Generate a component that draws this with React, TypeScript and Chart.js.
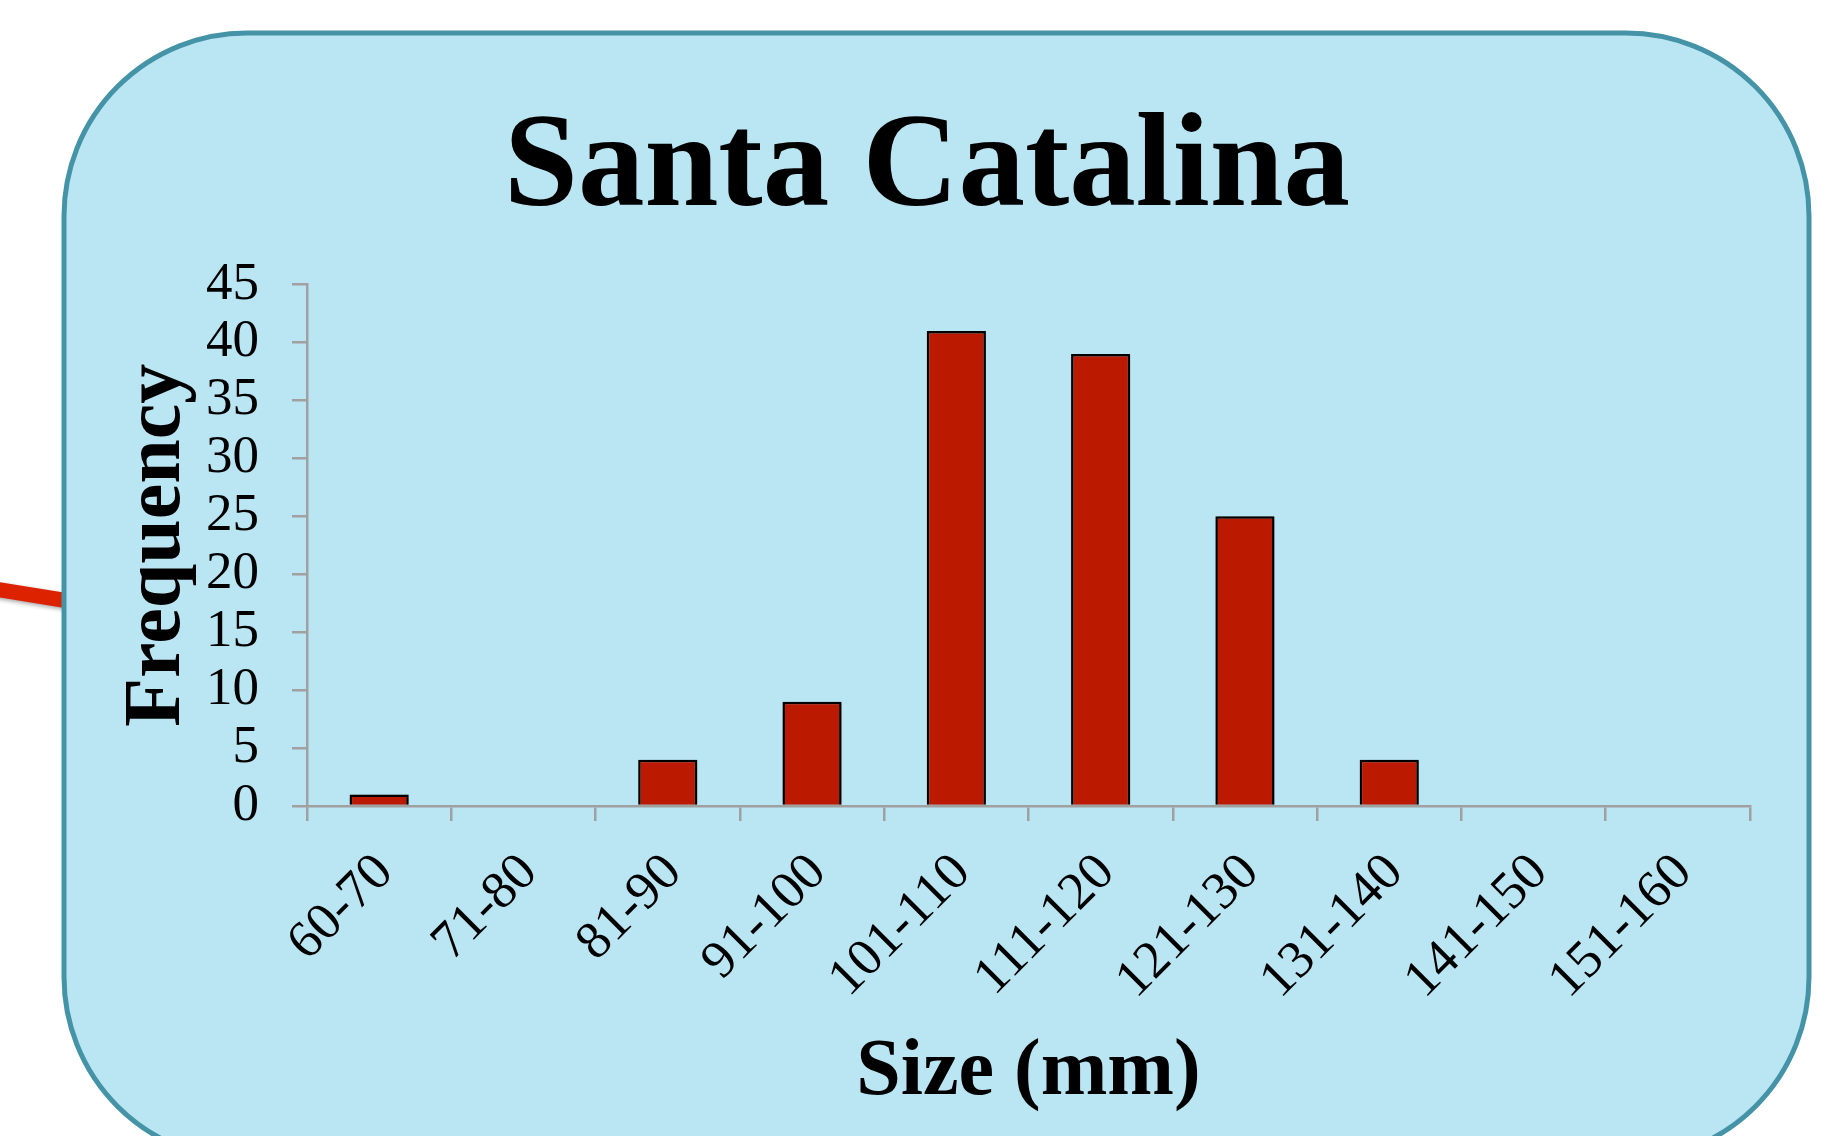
import React, { useEffect, useRef } from "react";
import { Chart, registerables } from "chart.js";

Chart.register(...registerables);

const categories = ["60-70", "71-80", "81-90", "91-100", "101-110", "111-120", "121-130", "131-140", "141-150", "151-160"];
const frequency = [1, 0, 4, 9, 41, 39, 25, 4, 0, 0];
const yMin = 0;
const yMax = 45;
const yStep = 5;

const chartTitle = "Santa Catalina";
const xTitle = "Size (mm)";
const yTitle = "Frequency";

const SERIF = "'Liberation Serif', 'Times New Roman', Times, serif";
const W = 1831;
const H = 1136;

const panelPlugin = {
  id: "panel",
  beforeDraw(chart: any) {
    const ctx = chart.ctx as CanvasRenderingContext2D;
    ctx.save();
    ctx.fillStyle = "#ffffff";
    ctx.fillRect(0, 0, W, H);
    // red pointer line on the left
    ctx.save();
    ctx.shadowColor = "rgba(0,0,0,0.35)";
    ctx.shadowBlur = 4;
    ctx.shadowOffsetX = 1;
    ctx.shadowOffsetY = 2;
    ctx.strokeStyle = "#DD2200";
    ctx.lineWidth = 15;
    ctx.lineCap = "butt";
    ctx.beginPath();
    ctx.moveTo(-6, 589);
    ctx.lineTo(72, 601.5);
    ctx.stroke();
    ctx.restore();
    // rounded panel
    ctx.beginPath();
    (ctx as any).roundRect(64, 33, 1809 - 64, 1160 - 33, 183);
    ctx.fillStyle = "#BAE5F2";
    ctx.fill();
    ctx.lineWidth = 5;
    ctx.strokeStyle = "#4593A6";
    ctx.stroke();
    ctx.restore();
  },
  beforeDatasetsDraw(chart: any) {
    const ctx = chart.ctx as CanvasRenderingContext2D;
    ctx.save();
    ctx.shadowColor = "rgba(0,0,0,0.3)";
    ctx.shadowBlur = 5;
    ctx.shadowOffsetX = 2;
    ctx.shadowOffsetY = 1;
  },
  afterDatasetsDraw(chart: any) {
    chart.ctx.restore();
  },
};

export default function App() {
  const ref = useRef<HTMLCanvasElement>(null);

  useEffect(() => {
    if (!ref.current) return;
    const chart = new Chart(ref.current, {
      type: "bar",
      data: {
        labels: categories,
        datasets: [
          {
            data: frequency,
            backgroundColor: "#BC1A00",
            borderColor: "#000000",
            borderWidth: 2.5,
            barPercentage: 0.41,
            categoryPercentage: 1.0,
          },
        ],
      },
      options: {
        responsive: false,
        animation: false,
        devicePixelRatio: 1,
        layout: { padding: { left: 104, right: 81, top: 0, bottom: 0 } },
        plugins: {
          legend: { display: false },
          tooltip: { enabled: false },
          title: {
            display: true,
            text: chartTitle,
            color: "#000000",
            font: { family: SERIF, size: 133, weight: "bold" },
            padding: { top: 91, bottom: 34 },
          },
        },
        scales: {
          x: {
            type: "category",
            offset: true,
            grid: {
              display: true,
              offset: true,
              drawOnChartArea: false,
              drawTicks: true,
              tickLength: 15,
              color: "#A0A0A0",
              lineWidth: 2.5,
            },
            border: { display: true, color: "#A0A0A0", width: 2.5 },
            ticks: {
              color: "#000000",
              font: { family: SERIF, size: 53 },
              maxRotation: 45,
              minRotation: 45,
              autoSkip: false,
              padding: 21,
              labelOffset: 6,
            },
            title: {
              display: true,
              text: xTitle,
              color: "#000000",
              font: { family: SERIF, size: 80, weight: "bold" },
              padding: { top: 0, bottom: 15 },
            },
            afterFit: (s: any) => {
              s.height = 330;
            },
          },
          y: {
            min: yMin,
            max: yMax,
            grid: {
              display: true,
              drawOnChartArea: false,
              drawTicks: true,
              tickLength: 15,
              color: "#A0A0A0",
              lineWidth: 2.5,
            },
            border: { display: true, color: "#A0A0A0", width: 2.5 },
            ticks: {
              stepSize: yStep,
              autoSkip: false,
              color: "#000000",
              font: { family: SERIF, size: 53 },
              padding: 33,
            },
            title: {
              display: true,
              text: yTitle,
              color: "#000000",
              font: { family: SERIF, size: 80, weight: "bold" },
              padding: { top: 6, bottom: 0 },
            },
            afterFit: (s: any) => {
              s.width = 203;
            },
          },
        },
      },
      plugins: [panelPlugin],
    } as any);
    return () => chart.destroy();
  }, []);

  return (
    <div style={{ position: "fixed", left: 0, top: 0, width: W, height: H }}>
      <canvas ref={ref} width={W} height={H} style={{ display: "block", width: W, height: H }} />
    </div>
  );
}
